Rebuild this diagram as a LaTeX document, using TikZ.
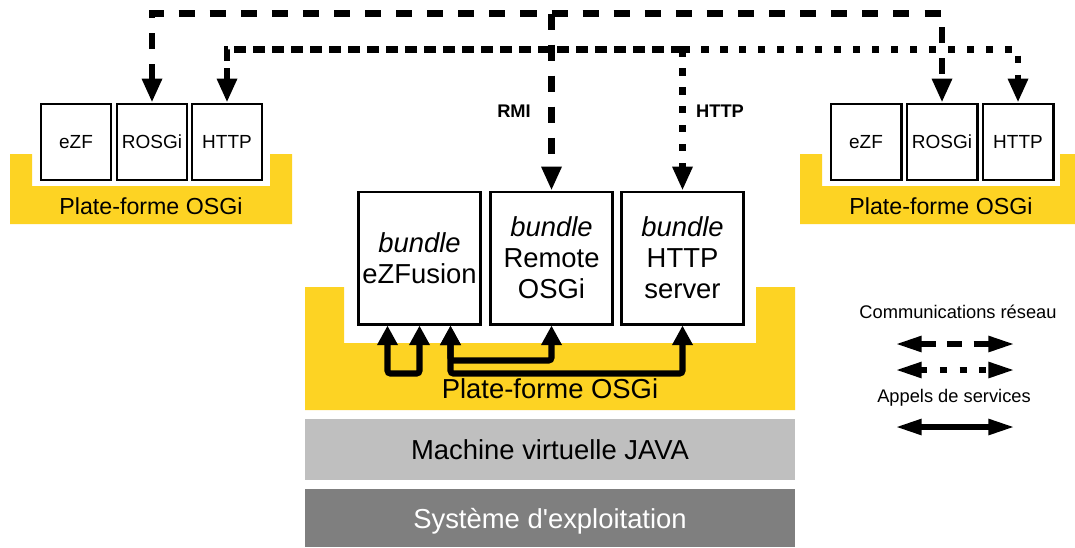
\documentclass[tikz,border=0pt]{standalone}
\usepackage{fontspec}
\setmainfont{Liberation Sans}
\usetikzlibrary{arrows.meta,calc}

\definecolor{osgiyellow}{HTML}{FDD323}
\definecolor{jvmgrey}{HTML}{BFBFBF}
\definecolor{osgrey}{HTML}{7F7F7F}

\begin{document}
\begin{tikzpicture}[x=0.025cm, y=-0.025cm,
    bundle/.style={draw, line width=2.1pt, fill=white,
                   minimum width=3.07cm, minimum height=3.3cm,
                   inner sep=0pt, align=center,
                   font=\fontsize{19.5}{22}\selectfont},
    proto/.style={draw, line width=2.1pt, fill=white,
                  minimum width=1.75cm, minimum height=1.9cm,
                  inner sep=0pt, font=\fontsize{13.5}{16}\selectfont},
    platelbl/.style={anchor=base, font=\fontsize{16.5}{20}\selectfont},
    biglbl/.style={anchor=base, font=\fontsize{19.5}{22}\selectfont},
    netlbl/.style={anchor=base, font=\bfseries\fontsize{13}{15}\selectfont},
    leglbl/.style={anchor=base, font=\fontsize{13}{15}\selectfont},
    rmi/.style={line width=4.3pt, dash pattern=on 11.4pt off 10.7pt,
                >={Triangle[length=17pt, width=13.5pt]}},
    httpdash/.style={line width=4.3pt, dash pattern=on 8.5pt off 5pt,
                     >={Triangle[length=17pt, width=13.5pt]}},
    httpdot/.style={line width=4.3pt, dash pattern=on 5pt off 8.5pt,
                    >={Triangle[length=17pt, width=13.5pt]}},
    svc/.style={line width=4.3pt, rounded corners=2pt,
                >={Triangle[length=14pt, width=14pt]}},
    leg/.style={line width=4.3pt,
                >={Triangle[length=19pt, width=10.5pt]}},
]
\useasboundingbox (0,0) rectangle (1075,547);

% --- OSGi platforms (yellow bases) ---
\fill[osgiyellow] (10,154) -- (32,154) -- (32,186) -- (270,186)
    -- (270,154) -- (292,154) -- (292,224) -- (10,224) -- cycle;
\fill[osgiyellow] (800,154) -- (822,154) -- (822,186) -- (1060,186)
    -- (1060,154) -- (1075,154) -- (1075,224) -- (800,224) -- cycle;
\fill[osgiyellow] (305,287) -- (344,287) -- (344,343) -- (756,343)
    -- (756,287) -- (795,287) -- (795,410) -- (305,410) -- cycle;

\node[platelbl] (lplate) at (151,214) {Plate-forme OSGi};
\node[platelbl] (rplate) at (941,214) {Plate-forme OSGi};
\node[biglbl]   (mplate) at (550,398) {Plate-forme OSGi};

% --- JVM and OS layers ---
\fill[jvmgrey] (305,419) rectangle (795,480);
\node[biglbl] (jvm) at (550,459) {Machine virtuelle JAVA};
\fill[osgrey] (305,489) rectangle (795,547);
\node[biglbl, text=white] (os) at (550,528)
    {Système d\textquotesingle exploitation};

% --- Remote platforms ---
\node[proto] (lezf)   at (76,142)   {eZF};
\node[proto] (lrosgi) at (152,142)  {ROSGi};
\node[proto] (lhttp)  at (227,142)  {HTTP};
\node[proto] (rezf)   at (866,142)  {eZF};
\node[proto] (rrosgi) at (942,142)  {ROSGi};
\node[proto] (rhttp)  at (1018,142) {HTTP};

% --- Bundles ---
\node[bundle] (ezf)    at (419.5,258) {\textit{bundle}\\eZFusion};
\node[bundle] (remote) at (551.5,258) {\textit{bundle}\\Remote\\OSGi};
\node[bundle] (server) at (682.5,258) {\textit{bundle}\\HTTP\\server};

% --- Network links ---
\path (remote.north) ++(0,-177) coordinate (rmitop);
\path (server.north) ++(0,-141) coordinate (httptop);

\draw[rmi, <->] (lrosgi.north) |- (rmitop) -| (rrosgi.north);
\draw[rmi, ->] (rmitop) -- (remote.north);
\draw[httpdash, <-] (lhttp.north) |- (httptop);
\draw[httpdot, ->] (httptop) -- (server.north);
\draw[httpdot, ->] (httptop) -| (rhttp.north);

\node[netlbl] (rmilbl)  at (514,117) {RMI};
\node[netlbl] (httplbl) at (720,117) {HTTP};

% --- Service calls ---
\draw[svc, <->] ($(ezf.south)+(-32,0)$) -- ++(0,48) -| (ezf.south);
\draw[svc, <->] ($(ezf.south)+(31,0)$) -- ++(0,35) -| (remote.south);
\draw[svc, <->] ($(ezf.south)+(31,0)$) -- ++(0,48) -| (server.south);

% --- Legend ---
\node[leglbl] (comm)   at (958,318) {Communications réseau};
\node[leglbl] (appels) at (954,402) {Appels de services};
\coordinate (leg1a) at (895,344);
\coordinate (leg1b) at (1015,344);
\coordinate (leg2a) at (895,370);
\coordinate (leg2b) at (1015,370);
\coordinate (leg3a) at (895,427);
\coordinate (leg3b) at (1015,427);
\draw[leg, dash pattern=on 11pt off 8pt, <->] (leg1a) -- (leg1b);
\draw[leg, dash pattern=on 5pt off 9pt, <->] (leg2a) -- (leg2b);
\draw[leg, <->] (leg3a) -- (leg3b);

\end{tikzpicture}
\end{document}
